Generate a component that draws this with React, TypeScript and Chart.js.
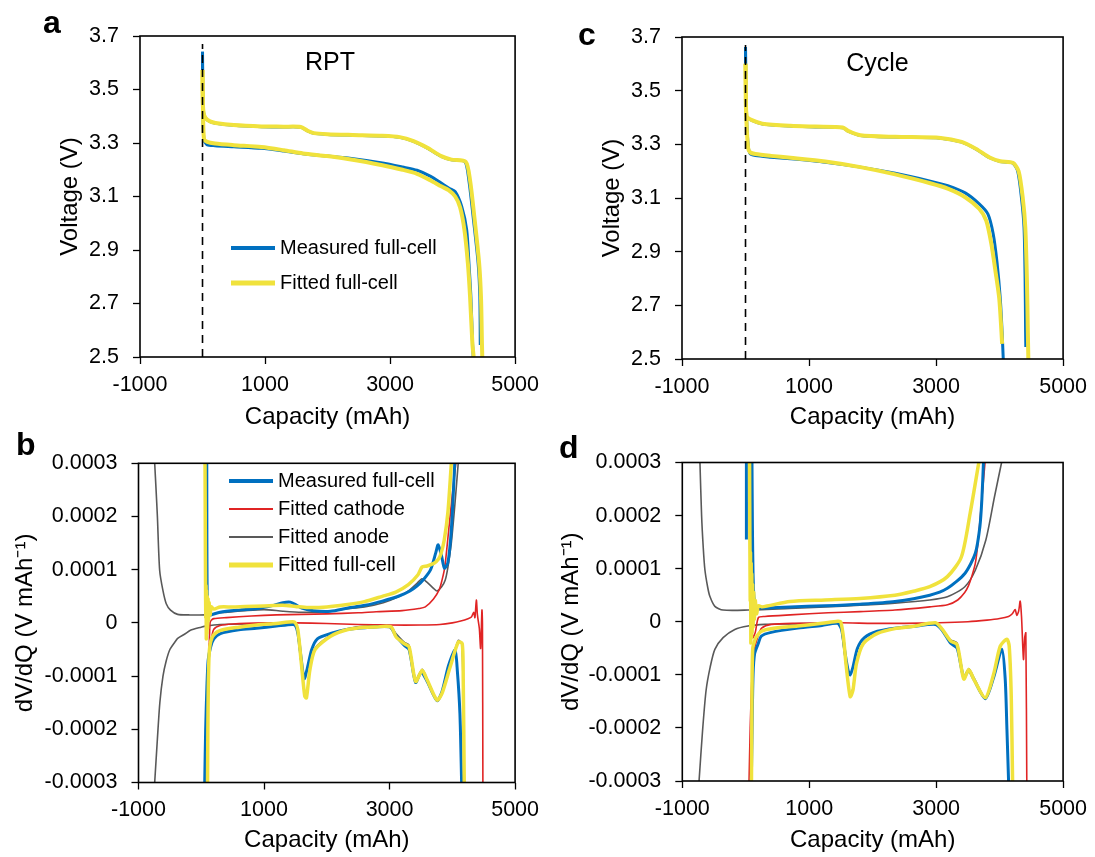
import React, { useEffect, useRef } from "react";
import { Chart, registerables } from "chart.js";

Chart.register(...registerables);

const FONT = "'Liberation Sans', Arial, Helvetica, sans-serif";
Chart.defaults.font.family = FONT;
Chart.defaults.color = "#000";

// ---------------- axis ticks ----------------
const capTicks = [-1000, 1000, 3000, 5000];
const voltTicks = [2.5, 2.7, 2.9, 3.1, 3.3, 3.5, 3.7];
const dvdqTicks = [-3e-4, -2e-4, -1e-4, 0, 1e-4, 2e-4, 3e-4];

// ---------------- panel a : RPT voltage ----------------
const rptChgMeasQ = [0, 5, 20, 50, 120, 208, 500, 942, 1300, 1572, 1680, 1782, 2000, 2400, 2878, 3155, 3376, 3597, 3818, 3983, 4197, 4260, 4329, 4409, 4436, 4443];
const rptChgMeasV = [3.641, 3.45, 3.41, 3.392, 3.38, 3.374, 3.366, 3.361, 3.36, 3.359, 3.345, 3.336, 3.332, 3.329, 3.326, 3.321, 3.306, 3.281, 3.25, 3.237, 3.23, 3.162, 3.024, 2.85, 2.725, 2.545];
const rptChgFitQ = [0, 5, 20, 50, 120, 208, 500, 942, 1300, 1572, 1680, 1782, 2000, 2400, 2878, 3155, 3376, 3597, 3818, 3983, 4210, 4280, 4350, 4425, 4455, 4470, 4475];
const rptChgFitV = [3.573, 3.45, 3.41, 3.393, 3.381, 3.375, 3.367, 3.362, 3.361, 3.36, 3.346, 3.337, 3.333, 3.33, 3.327, 3.322, 3.307, 3.282, 3.251, 3.238, 3.23, 3.16, 3.02, 2.85, 2.72, 2.55, 2.5];
const rptDchMeasQ = [0, 8, 24, 76, 200, 500, 942, 1300, 1608, 1992, 2326, 2878, 3200, 3431, 3650, 3818, 3950, 4042, 4147, 4226, 4262, 4293, 4320, 4330];
const rptDchMeasV = [3.641, 3.4, 3.311, 3.293, 3.29, 3.286, 3.28, 3.27, 3.26, 3.251, 3.244, 3.225, 3.21, 3.198, 3.175, 3.15, 3.13, 3.118, 3.062, 2.975, 2.85, 2.725, 2.55, 2.5];
const rptDchFitQ = [0, 8, 24, 76, 200, 500, 942, 1300, 1608, 1992, 2326, 2878, 3200, 3431, 3650, 3818, 3937, 4042, 4120, 4190, 4245, 4280, 4317, 4338];
const rptDchFitV = [3.573, 3.42, 3.315, 3.304, 3.298, 3.292, 3.285, 3.273, 3.261, 3.251, 3.24, 3.217, 3.2, 3.185, 3.16, 3.138, 3.124, 3.1, 3.06, 2.975, 2.85, 2.725, 2.55, 2.5];

// ---------------- panel c : Cycle voltage ----------------
const cycChgMeasQ = [0, 5, 18, 101, 266, 707, 1100, 1532, 1615, 1808, 2358, 3074, 3404, 3624, 3844, 4010, 4202, 4285, 4345, 4385, 4402, 4410, 4413];
const cycChgMeasV = [3.663, 3.5, 3.404, 3.389, 3.376, 3.368, 3.365, 3.362, 3.349, 3.333, 3.327, 3.323, 3.308, 3.283, 3.25, 3.236, 3.231, 3.2, 3.1, 2.99, 2.8, 2.6, 2.545];
const cycChgFitQ = [0, 5, 18, 101, 266, 707, 1100, 1532, 1615, 1808, 2358, 3074, 3404, 3624, 3844, 4010, 4210, 4300, 4365, 4405, 4430, 4445, 4453];
const cycChgFitV = [3.6, 3.5, 3.404, 3.39, 3.377, 3.369, 3.366, 3.363, 3.35, 3.334, 3.328, 3.324, 3.309, 3.284, 3.251, 3.237, 3.231, 3.2, 3.1, 2.99, 2.8, 2.6, 2.5];
const cycDchMeasQ = [0, 10, 40, 73, 156, 400, 707, 1257, 1808, 2358, 2909, 3184, 3459, 3679, 3817, 3900, 3960, 4011, 4040, 4058];
const cycDchMeasV = [3.663, 3.45, 3.3, 3.265, 3.258, 3.252, 3.246, 3.233, 3.215, 3.192, 3.163, 3.146, 3.119, 3.078, 3.04, 2.966, 2.86, 2.725, 2.6, 2.5];
const cycDchFitQ = [0, 10, 40, 73, 156, 400, 707, 1257, 1808, 2358, 2909, 3184, 3459, 3679, 3790, 3870, 3940, 3995, 4030, 4040];
const cycDchFitV = [3.6, 3.42, 3.287, 3.27, 3.264, 3.257, 3.25, 3.236, 3.215, 3.188, 3.155, 3.135, 3.103, 3.06, 3.016, 2.93, 2.82, 2.725, 2.6, 2.556];

// zero-capacity dashed marker (panels a, c)
const zeroLineQ = [0, 0];
const zeroLineV = [2.5, 3.67];

// ---------------- panel b : RPT dV/dQ ----------------
const rptMeasChgQ = [88, 90, 93, 100, 115, 150, 300, 600, 900, 1150, 1300, 1420, 1520, 1600, 1786, 2061, 2335, 2610, 2885, 3160, 3325, 3435, 3545, 3654, 3737, 3775, 3830, 3874, 3929, 3984, 4039];
const rptMeasChgY = [3.0e-4, 1.5e-4, 0.75e-4, 0.3e-4, 0.15e-4, 0.15e-4, 0.2e-4, 0.24e-4, 0.27e-4, 0.33e-4, 0.38e-4, 0.39e-4, 0.33e-4, 0.28e-4, 0.23e-4, 0.22e-4, 0.28e-4, 0.33e-4, 0.41e-4, 0.51e-4, 0.6e-4, 0.69e-4, 0.82e-4, 1.0e-4, 1.32e-4, 1.47e-4, 1.25e-4, 1.03e-4, 1.13e-4, 1.75e-4, 3.0e-4];
const rptMeasDchQ = [55, 70, 90, 110, 150, 200, 305, 600, 879, 1200, 1450, 1500, 1540, 1590, 1640, 1690, 1760, 1850, 2061, 2335, 2610, 3000, 3100, 3232, 3311, 3415, 3500, 3590, 3755, 3834, 3940, 4043, 4080, 4121, 4148];
const rptMeasDchY = [-3.0e-4, -2.0e-4, -1.2e-4, -0.7e-4, -0.45e-4, -0.3e-4, -0.2e-4, -0.13e-4, -0.1e-4, -0.06e-4, -0.03e-4, -0.05e-4, -0.2e-4, -0.65e-4, -1.05e-4, -0.85e-4, -0.5e-4, -0.3e-4, -0.2e-4, -0.12e-4, -0.09e-4, -0.075e-4, -0.24e-4, -0.42e-4, -0.5e-4, -1.12e-4, -0.93e-4, -1.08e-4, -1.46e-4, -1.3e-4, -0.8e-4, -0.51e-4, -0.9e-4, -1.7e-4, -3.0e-4];
const rptFitChgQ = [60, 64, 68, 72, 76, 80, 85, 90, 95, 100, 108, 115, 125, 140, 160, 200, 300, 500, 700, 1000, 1300, 1500, 1700, 2000, 2300, 2600, 2885, 3100, 3300, 3450, 3517, 3600, 3709, 3780, 3819, 3870, 3929, 3984];
const rptFitChgY = [3.0e-4, 1.8e-4, 0.74e-4, 0.1e-4, 0.7e-4, -0.3e-4, 0.6e-4, -0.2e-4, 0.5e-4, -0.1e-4, 0.45e-4, 0.05e-4, 0.38e-4, 0.15e-4, 0.3e-4, 0.26e-4, 0.3e-4, 0.3e-4, 0.31e-4, 0.32e-4, 0.33e-4, 0.31e-4, 0.29e-4, 0.3e-4, 0.34e-4, 0.4e-4, 0.5e-4, 0.58e-4, 0.72e-4, 0.9e-4, 1.05e-4, 1.07e-4, 1.12e-4, 1.2e-4, 1.3e-4, 1.55e-4, 2.07e-4, 3.0e-4];
const rptFitDchQ = [100, 105, 112, 125, 150, 200, 305, 600, 879, 1200, 1455, 1500, 1539, 1594, 1649, 1676, 1731, 1813, 2061, 2335, 2610, 2788, 3023, 3102, 3232, 3311, 3415, 3520, 3598, 3755, 3834, 3965, 4095, 4158, 4174, 4190];
const rptFitDchY = [-3.0e-4, -2.0e-4, -1.2e-4, -0.6e-4, -0.35e-4, -0.22e-4, -0.14e-4, -0.08e-4, -0.04e-4, -0.01e-4, 0.02e-4, 0, -0.13e-4, -0.75e-4, -1.38e-4, -1.41e-4, -0.88e-4, -0.5e-4, -0.25e-4, -0.125e-4, -0.08e-4, -0.075e-4, -0.075e-4, -0.26e-4, -0.39e-4, -0.45e-4, -1.1e-4, -0.89e-4, -1.07e-4, -1.45e-4, -1.33e-4, -0.83e-4, -0.36e-4, -0.39e-4, -1.08e-4, -3.0e-4];
const rptCathChgQ = [125, 140, 160, 200, 400, 800, 1200, 1600, 2000, 2500, 2788, 3200, 3468, 3570, 3700, 3790, 3835, 3880, 3930, 3990, 4055];
const rptCathChgY = [-0.5e-4, 0, 0.05e-4, 0.08e-4, 0.1e-4, 0.13e-4, 0.15e-4, 0.16e-4, 0.17e-4, 0.19e-4, 0.21e-4, 0.23e-4, 0.27e-4, 0.3e-4, 0.45e-4, 0.62e-4, 0.8e-4, 1.05e-4, 1.6e-4, 2.3e-4, 3.0e-4];
const rptCathDchQ = [95, 110, 130, 160, 200, 300, 500, 1000, 1500, 2000, 2500, 3000, 3500, 3800, 4000, 4150, 4250, 4304, 4340, 4360, 4383, 4400, 4430, 4451, 4472, 4480, 4487];
const rptCathDchY = [-2.0e-4, -1.0e-4, -0.4e-4, -0.3e-4, -0.12e-4, -0.05e-4, -0.02e-4, 0, 0, -0.01e-4, -0.03e-4, -0.04e-4, -0.04e-4, -0.03e-4, 0, 0.04e-4, 0.08e-4, 0.11e-4, 0.2e-4, 0.1e-4, 0.43e-4, 0.15e-4, -0.1e-4, -0.48e-4, 0.24e-4, 0, -3.0e-4];
const rptAnodeChgQ = [-742, -720, -699, -663, -611, -558, -490, -376, -200, 70, 300, 700, 1000, 1300, 1600, 2000, 2300, 2600, 2900, 3160, 3300, 3435, 3517, 3600, 3700, 3756, 3830, 3886, 3930, 3984, 4039, 4094];
const rptAnodeChgY = [3.0e-4, 2.5e-4, 2.0e-4, 0.99e-4, 0.61e-4, 0.36e-4, 0.24e-4, 0.16e-4, 0.15e-4, 0.15e-4, 0.19e-4, 0.23e-4, 0.25e-4, 0.22e-4, 0.2e-4, 0.21e-4, 0.26e-4, 0.3e-4, 0.38e-4, 0.5e-4, 0.6e-4, 0.74e-4, 0.83e-4, 0.76e-4, 0.65e-4, 0.6e-4, 0.68e-4, 0.8e-4, 1.05e-4, 1.5e-4, 2.2e-4, 3.0e-4];
const rptAnodeDchQ = [-742, -700, -660, -610, -560, -500, -420, -376, -250, -173, 0, 70, 300, 700, 1000, 1300, 1450, 1520, 1580, 1640, 1676, 1731, 1813, 2061, 2335, 2610, 3000, 3102, 3232, 3311, 3415, 3520, 3598, 3755, 3834, 3965, 4095, 4150, 4170, 4185];
const rptAnodeDchY = [-3.0e-4, -2.2e-4, -1.5e-4, -1.0e-4, -0.72e-4, -0.5e-4, -0.36e-4, -0.29e-4, -0.2e-4, -0.137e-4, -0.08e-4, -0.06e-4, -0.03e-4, -0.02e-4, -0.02e-4, -0.01e-4, 0, -0.1e-4, -0.65e-4, -1.3e-4, -1.38e-4, -0.85e-4, -0.48e-4, -0.23e-4, -0.11e-4, -0.06e-4, -0.05e-4, -0.2e-4, -0.36e-4, -0.42e-4, -1.08e-4, -0.87e-4, -1.05e-4, -1.45e-4, -1.31e-4, -0.8e-4, -0.33e-4, -0.4e-4, -1.2e-4, -3.0e-4];

// ---------------- panel d : Cycle dV/dQ ----------------
const cycMeasSpikeQ = [10, 10];
const cycMeasSpikeY = [3.0e-4, 1.55e-4];
const cycMeasChgQ = [98, 105, 115, 130, 160, 250, 500, 697, 1248, 1799, 2350, 2900, 3177, 3452, 3617, 3690, 3720, 3745];
const cycMeasChgY = [3.0e-4, 1.8e-4, 0.9e-4, 0.45e-4, 0.3e-4, 0.26e-4, 0.27e-4, 0.28e-4, 0.3e-4, 0.33e-4, 0.38e-4, 0.5e-4, 0.63e-4, 0.91e-4, 1.29e-4, 1.8e-4, 2.3e-4, 3.0e-4];
const cycMeasDchQ = [88, 100, 115, 140, 200, 245, 400, 820, 1200, 1446, 1510, 1560, 1610, 1645, 1690, 1760, 1870, 2075, 2350, 2626, 2990, 3095, 3226, 3330, 3435, 3513, 3592, 3775, 3905, 4036, 4088, 4115, 4141];
const cycMeasDchY = [-3.0e-4, -2.0e-4, -1.0e-4, -0.6e-4, -0.4e-4, -0.27e-4, -0.2e-4, -0.12e-4, -0.07e-4, -0.03e-4, -0.15e-4, -0.55e-4, -0.9e-4, -1.0e-4, -0.85e-4, -0.5e-4, -0.3e-4, -0.18e-4, -0.12e-4, -0.09e-4, -0.05e-4, -0.16e-4, -0.4e-4, -0.5e-4, -1.05e-4, -0.92e-4, -1.08e-4, -1.45e-4, -1.05e-4, -0.52e-4, -1.08e-4, -2.02e-4, -3.0e-4];
const cycFitChgQ = [60, 65, 70, 75, 80, 85, 90, 95, 100, 108, 115, 125, 135, 150, 170, 200, 256, 697, 1248, 1799, 2350, 2626, 2900, 3177, 3397, 3535, 3672];
const cycFitChgY = [3.0e-4, 1.5e-4, 0.4e-4, 1.3e-4, -0.4e-4, 1.1e-4, -0.3e-4, 0.9e-4, -0.2e-4, 0.7e-4, -0.1e-4, 0.55e-4, 0.05e-4, 0.4e-4, 0.15e-4, 0.3e-4, 0.28e-4, 0.38e-4, 0.41e-4, 0.44e-4, 0.5e-4, 0.57e-4, 0.66e-4, 0.85e-4, 1.22e-4, 2.04e-4, 3.0e-4];
const cycFitDchQ = [90, 95, 100, 110, 130, 160, 245, 400, 820, 1200, 1446, 1496, 1540, 1579, 1645, 1689, 1744, 1854, 2075, 2350, 2626, 2990, 3095, 3226, 3330, 3435, 3513, 3592, 3775, 3905, 4010, 4115, 4151, 4183, 4204];
const cycFitDchY = [-3.0e-4, -2.0e-4, -1.0e-4, -0.5e-4, -0.4e-4, -0.3e-4, -0.18e-4, -0.13e-4, -0.08e-4, -0.03e-4, 0.01e-4, 0, -0.3e-4, -0.79e-4, -1.41e-4, -1.29e-4, -0.79e-4, -0.41e-4, -0.22e-4, -0.13e-4, -0.09e-4, -0.02e-4, -0.14e-4, -0.36e-4, -0.43e-4, -1.08e-4, -0.9e-4, -1.08e-4, -1.43e-4, -0.99e-4, -0.46e-4, -0.33e-4, -0.46e-4, -1.4e-4, -3.0e-4];
const cycCathChgQ = [55, 70, 110, 150, 200, 300, 700, 1300, 1800, 2350, 2900, 3180, 3340, 3450, 3510, 3560, 3617, 3660, 3700, 3770];
const cycCathChgY = [3.0e-4, 0.5e-4, -0.3e-4, -0.2e-4, 0.08e-4, 0.1e-4, 0.13e-4, 0.17e-4, 0.19e-4, 0.22e-4, 0.28e-4, 0.32e-4, 0.41e-4, 0.55e-4, 0.68e-4, 0.85e-4, 1.1e-4, 1.5e-4, 2.04e-4, 3.0e-4];
const cycCathDchQ = [52, 70, 100, 140, 200, 250, 400, 800, 1500, 2000, 2500, 3043, 3500, 3800, 4000, 4141, 4200, 4245, 4270, 4300, 4324, 4345, 4376, 4395, 4413, 4428];
const cycCathDchY = [-3.0e-4, -2.0e-4, -1.0e-4, -0.5e-4, -0.25e-4, -0.12e-4, -0.05e-4, -0.03e-4, -0.02e-4, -0.03e-4, -0.03e-4, -0.02e-4, 0, 0.03e-4, 0.06e-4, 0.1e-4, 0.15e-4, 0.23e-4, 0.12e-4, 0.2e-4, 0.39e-4, 0.1e-4, -0.71e-4, -0.3e-4, -0.21e-4, -3.0e-4];
const cycAnodeChgQ = [-722, -696, -670, -644, -600, -566, -487, -357, 35, 697, 1248, 1799, 2350, 2900, 3177, 3452, 3617, 3783, 3920, 4031];
const cycAnodeChgY = [3.0e-4, 2.0e-4, 1.4e-4, 0.98e-4, 0.65e-4, 0.48e-4, 0.29e-4, 0.22e-4, 0.22e-4, 0.25e-4, 0.28e-4, 0.31e-4, 0.35e-4, 0.41e-4, 0.47e-4, 0.66e-4, 0.97e-4, 1.54e-4, 2.36e-4, 3.0e-4];
const cycAnodeDchQ = [-736, -680, -625, -560, -487, -357, -173, 35, 300, 697, 1400, 1480, 1540, 1600, 1645, 1689, 1744, 1854, 2075, 2350, 2626, 2990, 3095, 3226, 3330, 3435, 3513, 3592, 3775, 3905, 4010, 4115, 4151, 4183, 4200];
const cycAnodeDchY = [-3.0e-4, -2.04e-4, -1.29e-4, -0.85e-4, -0.52e-4, -0.3e-4, -0.145e-4, -0.08e-4, -0.05e-4, -0.04e-4, -0.02e-4, 0, -0.45e-4, -1.05e-4, -1.38e-4, -1.25e-4, -0.77e-4, -0.4e-4, -0.21e-4, -0.12e-4, -0.08e-4, -0.04e-4, -0.14e-4, -0.34e-4, -0.4e-4, -1.06e-4, -0.88e-4, -1.05e-4, -1.43e-4, -1.0e-4, -0.47e-4, -0.32e-4, -0.44e-4, -1.35e-4, -3.0e-4];

// annotation anchors (data units)
const rptLabelQ = 2040;
const rptLabelV = 3.6;
const cycLabelQ = 2078;
const cycLabelV = 3.6;

// ---------------- styling ----------------
const BLUE = "#0070C0";
const YELLOW = "#F0E23C";
const RED = "#E02424";
const GRAY = "#595959";

const xy = (q: number[], y: number[]) => q.map((v, i) => ({ x: v, y: y[i] }));

function ser(q: number[], y: number[], color: string, width: number, order: number, extra: any = {}) {
  return {
    data: xy(q, y),
    borderColor: color,
    backgroundColor: color,
    borderWidth: width,
    pointRadius: 0,
    pointHoverRadius: 0,
    tension: 0.25,
    fill: false,
    order,
    clip: 0,
    ...extra,
  };
}

const dashed = () =>
  ser(zeroLineQ, zeroLineV, "#000", 1.6, -1, { borderDash: [8, 6], tension: 0 });

const voltFmt = (v: any) => Number(v).toFixed(1);
const dvdqFmt = (v: any) => (Math.abs(Number(v)) < 1e-12 ? "0" : Number(v).toFixed(4));

type LegendItem = { label: string; color: string; lw: number };

type PanelCfg = {
  id: string;
  left: number;
  top: number;
  w: number;
  h: number;
  padTop: number;
  padRight: number;
  yW: number;
  xH: number;
  yTitle: string;
  yTitlePad: number;
  xTitlePad: number;
  yMin: number;
  yMax: number;
  yTicks: number[];
  yFmt: (v: any) => string;
  datasets: any[];
  legend: LegendItem[];
  legendX: number;
  legendTop: number;
  legendGap: number;
  letter: string;
  letterX: number;
  letterY: number;
  note?: { text: string; q: number; v: number };
};

const legendVolt: LegendItem[] = [
  { label: "Measured full-cell", color: BLUE, lw: 4 },
  { label: "Fitted full-cell", color: YELLOW, lw: 5 },
];
const legendDvdq: LegendItem[] = [
  { label: "Measured full-cell", color: BLUE, lw: 4 },
  { label: "Fitted cathode", color: RED, lw: 2 },
  { label: "Fitted anode", color: GRAY, lw: 2 },
  { label: "Fitted full-cell", color: YELLOW, lw: 5 },
];

const DVDQ_TITLE = "dV/dQ (V mAh\u207B\u00B9)";

const panels: PanelCfg[] = [
  {
    id: "a", left: 0, top: 0, w: 547, h: 430, padTop: 36, padRight: 26, yW: 140, xH: 73,
    yTitle: "Voltage (V)", yTitlePad: 58, xTitlePad: 1,
    yMin: 2.5, yMax: 3.7, yTicks: voltTicks, yFmt: voltFmt,
    datasets: [
      dashed(),
      ser(rptChgFitQ, rptChgFitV, YELLOW, 4, 0),
      ser(rptDchFitQ, rptDchFitV, YELLOW, 4, 0),
      ser(rptChgMeasQ, rptChgMeasV, BLUE, 3, 1),
      ser(rptDchMeasQ, rptDchMeasV, BLUE, 3, 1),
    ],
    legend: legendVolt, legendX: 91, legendTop: 212, legendGap: 35,
    letter: "a", letterX: 43, letterY: 33,
    note: { text: "RPT", q: rptLabelQ, v: rptLabelV },
  },
  {
    id: "c", left: 547, top: 0, w: 548, h: 430, padTop: 37, padRight: 29, yW: 135, xH: 71,
    yTitle: "Voltage (V)", yTitlePad: 53.5, xTitlePad: 1,
    yMin: 2.5, yMax: 3.7, yTicks: voltTicks, yFmt: voltFmt,
    datasets: [
      dashed(),
      ser(cycChgFitQ, cycChgFitV, YELLOW, 4, 0),
      ser(cycDchFitQ, cycDchFitV, YELLOW, 4, 0),
      ser(cycChgMeasQ, cycChgMeasV, BLUE, 3, 1),
      ser(cycDchMeasQ, cycDchMeasV, BLUE, 3, 1),
    ],
    legend: [], legendX: 0, legendTop: 0, legendGap: 0,
    letter: "c", letterX: 31, letterY: 45,
    note: { text: "Cycle", q: cycLabelQ, v: cycLabelV },
  },
  {
    id: "b", left: 0, top: 430, w: 547, h: 427, padTop: 33.3, padRight: 25.5, yW: 138.5, xH: 74.5,
    yTitle: DVDQ_TITLE, yTitlePad: 13.4, xTitlePad: 4.4,
    yMin: -3e-4, yMax: 3e-4, yTicks: dvdqTicks, yFmt: dvdqFmt,
    datasets: [
      ser(rptFitChgQ, rptFitChgY, YELLOW, 3.5, 0),
      ser(rptFitDchQ, rptFitDchY, YELLOW, 3.5, 0),
      ser(rptMeasChgQ, rptMeasChgY, BLUE, 3, 1),
      ser(rptMeasDchQ, rptMeasDchY, BLUE, 3, 1),
      ser(rptCathChgQ, rptCathChgY, RED, 1.6, 2),
      ser(rptCathDchQ, rptCathDchY, RED, 1.6, 2),
      ser(rptAnodeChgQ, rptAnodeChgY, GRAY, 1.6, 3),
      ser(rptAnodeDchQ, rptAnodeDchY, GRAY, 1.6, 3),
    ],
    legend: legendDvdq, legendX: 90.5, legendTop: 17.7, legendGap: 28,
    letter: "b", letterX: 16, letterY: 25,
  },
  {
    id: "d", left: 547, top: 430, w: 548, h: 427, padTop: 32.5, padRight: 30, yW: 135.3, xH: 76,
    yTitle: DVDQ_TITLE, yTitlePad: 12.2, xTitlePad: 4.4,
    yMin: -3e-4, yMax: 3e-4, yTicks: dvdqTicks, yFmt: dvdqFmt,
    datasets: [
      ser(cycFitChgQ, cycFitChgY, YELLOW, 3.5, 0),
      ser(cycFitDchQ, cycFitDchY, YELLOW, 3.5, 0),
      ser(cycMeasSpikeQ, cycMeasSpikeY, BLUE, 3, 1, { tension: 0 }),
      ser(cycMeasChgQ, cycMeasChgY, BLUE, 3, 1),
      ser(cycMeasDchQ, cycMeasDchY, BLUE, 3, 1),
      ser(cycCathChgQ, cycCathChgY, RED, 1.6, 2),
      ser(cycCathDchQ, cycCathDchY, RED, 1.6, 2),
      ser(cycAnodeChgQ, cycAnodeChgY, GRAY, 1.6, 3),
      ser(cycAnodeDchQ, cycAnodeDchY, GRAY, 1.6, 3),
    ],
    legend: [], legendX: 0, legendTop: 0, legendGap: 0,
    letter: "d", letterX: 12, letterY: 28,
  },
];

function decor(cfg: PanelCfg) {
  return {
    id: "decor_" + cfg.id,
    afterDatasetsDraw(chart: any) {
      const { ctx, chartArea: a } = chart;
      ctx.save();
      // frame
      ctx.strokeStyle = "#000";
      ctx.lineWidth = 1.6;
      ctx.strokeRect(a.left, a.top, a.right - a.left, a.bottom - a.top);
      // legend
      cfg.legend.forEach((it, i) => {
        const y = a.top + cfg.legendTop + i * cfg.legendGap;
        const x0 = a.left + cfg.legendX;
        ctx.beginPath();
        ctx.strokeStyle = it.color;
        ctx.lineWidth = it.lw;
        ctx.moveTo(x0, y);
        ctx.lineTo(x0 + 44, y);
        ctx.stroke();
        ctx.fillStyle = "#000";
        ctx.font = `20px ${FONT}`;
        ctx.textAlign = "left";
        ctx.textBaseline = "middle";
        ctx.fillText(it.label, x0 + 49, y);
      });
      // annotation
      if (cfg.note) {
        const x = chart.scales.x.getPixelForValue(cfg.note.q);
        const y = chart.scales.y.getPixelForValue(cfg.note.v);
        ctx.fillStyle = "#000";
        ctx.font = `25px ${FONT}`;
        ctx.textAlign = "center";
        ctx.textBaseline = "middle";
        ctx.fillText(cfg.note.text, x, y);
      }
      // panel letter
      ctx.fillStyle = "#000";
      ctx.font = `bold 32px ${FONT}`;
      ctx.textAlign = "left";
      ctx.textBaseline = "alphabetic";
      ctx.fillText(cfg.letter, cfg.letterX, cfg.letterY);
      ctx.restore();
    },
  };
}

function Panel({ cfg }: { cfg: PanelCfg }) {
  const ref = useRef<HTMLCanvasElement>(null);
  useEffect(() => {
    const tickFont = { family: FONT, size: 21.5 };
    const chart = new Chart(ref.current as HTMLCanvasElement, {
      type: "line",
      data: { datasets: cfg.datasets },
      options: {
        animation: false,
        responsive: false,
        maintainAspectRatio: false,
        devicePixelRatio: 1,
        events: [],
        layout: { padding: { left: 0, top: cfg.padTop, right: cfg.padRight, bottom: 0 } },
        plugins: { legend: { display: false }, tooltip: { enabled: false }, title: { display: false } },
        scales: {
          x: {
            type: "linear",
            min: -1000,
            max: 5000,
            afterBuildTicks: (s: any) => {
              s.ticks = capTicks.map((v) => ({ value: v }));
            },
            afterFit: (s: any) => {
              s.height = cfg.xH;
            },
            ticks: {
              font: tickFont,
              color: "#000",
              padding: 8,
              autoSkip: false,
              maxRotation: 0,
              minRotation: 0,
              callback: (v: any) => String(v),
            },
            grid: { display: true, drawOnChartArea: false, drawTicks: true, tickLength: 7, tickColor: "#000", tickWidth: 1.3 },
            border: { display: false },
            title: {
              display: true,
              text: "Capacity (mAh)",
              color: "#000",
              font: { family: FONT, size: 24, lineHeight: 1 },
              padding: { top: 0, bottom: cfg.xTitlePad },
            },
          },
          y: {
            type: "linear",
            min: cfg.yMin,
            max: cfg.yMax,
            afterBuildTicks: (s: any) => {
              s.ticks = cfg.yTicks.map((v) => ({ value: v }));
            },
            afterFit: (s: any) => {
              s.width = cfg.yW;
            },
            ticks: {
              font: tickFont,
              color: "#000",
              padding: 14,
              autoSkip: false,
              callback: cfg.yFmt,
            },
            grid: { display: true, drawOnChartArea: false, drawTicks: true, tickLength: 7, tickColor: "#000", tickWidth: 1.3 },
            border: { display: false },
            title: {
              display: true,
              text: cfg.yTitle,
              color: "#000",
              font: { family: FONT, size: 24, lineHeight: 1 },
              padding: { top: cfg.yTitlePad, bottom: 0 },
            },
          },
        },
      } as any,
      plugins: [decor(cfg)],
    });
    return () => chart.destroy();
  }, []);
  return (
    <canvas
      ref={ref}
      width={cfg.w}
      height={cfg.h}
      style={{ position: "absolute", left: cfg.left, top: cfg.top, width: cfg.w, height: cfg.h }}
    />
  );
}

export default function App() {
  return (
    <div style={{ position: "absolute", left: 0, top: 0, width: 1095, height: 857, background: "#fff", overflow: "hidden" }}>
      {panels.map((p) => (
        <Panel key={p.id} cfg={p} />
      ))}
    </div>
  );
}
